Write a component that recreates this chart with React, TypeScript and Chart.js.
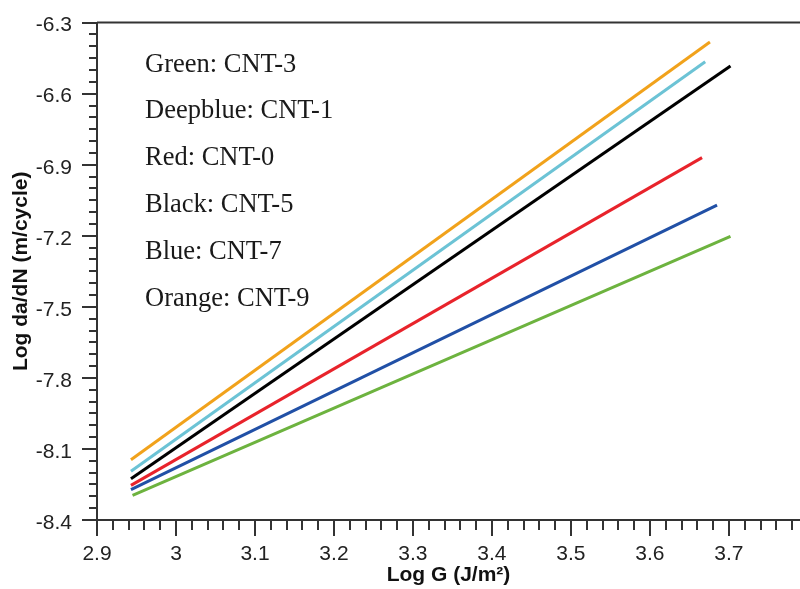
import { useEffect, useRef } from "react";
import { Chart, registerables } from "chart.js";

Chart.register(...registerables);

// Fitted fatigue-crack-growth lines: log da/dN against log G, one per CNT loading.
const seriesNames = ["CNT-9", "CNT-7", "CNT-5", "CNT-0", "CNT-1", "CNT-3"];
const seriesColors = ["#f1a21b", "#6cc3d5", "#000000", "#e8232b", "#2150a6", "#6db33f"];
const startLogG = [2.943, 2.943, 2.943, 2.943, 2.943, 2.945];
const endLogG = [3.676, 3.67, 3.702, 3.666, 3.685, 3.702];
const startRate = [-8.146, -8.194, -8.226, -8.254, -8.272, -8.296];
const endRate = [-6.382, -6.465, -6.483, -6.87, -7.071, -7.203];

const noteLines = [
  "Green: CNT-3",
  "Deepblue: CNT-1",
  "Red: CNT-0",
  "Black: CNT-5",
  "Blue: CNT-7",
  "Orange: CNT-9",
];

const xTicks = [2.9, 3.0, 3.1, 3.2, 3.3, 3.4, 3.5, 3.6, 3.7];
const yTicks = [-8.4, -8.1, -7.8, -7.5, -7.2, -6.9, -6.6, -6.3];
const xMinorStep = 0.02;
const yMinorStep = 0.05;

const SANS = '"Liberation Sans", Arial, Helvetica, sans-serif';
const SERIF = '"Liberation Serif", "Times New Roman", serif';
const AXIS_COLOR = "#333333";

const fmt = (v: number | string) => String(Math.round(Number(v) * 10) / 10);

function minorValues(min: number, max: number, step: number, majors: number[]) {
  const out: number[] = [];
  const n = Math.round((max - min) / step);
  for (let i = 0; i <= n; i++) {
    const v = +(min + i * step).toFixed(4);
    if (v > max + 1e-9) break;
    if (majors.some((m) => Math.abs(m - v) < 1e-6)) continue;
    out.push(v);
  }
  return out;
}

const framePlugin = {
  id: "frameAndNotes",
  afterDraw(chart: any) {
    const { ctx, chartArea, scales } = chart;
    const x = scales.x;
    const y = scales.y;
    ctx.save();

    // top frame line
    ctx.strokeStyle = AXIS_COLOR;
    ctx.lineWidth = 2;
    ctx.beginPath();
    ctx.moveTo(chartArea.left, chartArea.top);
    ctx.lineTo(chartArea.right, chartArea.top);
    ctx.stroke();

    // minor tick marks
    ctx.lineWidth = 2;
    ctx.beginPath();
    for (const v of minorValues(2.9, x.max, xMinorStep, xTicks)) {
      const px = Math.round(x.getPixelForValue(v));
      ctx.moveTo(px, chartArea.bottom);
      ctx.lineTo(px, chartArea.bottom + 10);
    }
    for (const v of minorValues(-8.4, -6.3, yMinorStep, yTicks)) {
      const py = Math.round(y.getPixelForValue(v));
      ctx.moveTo(chartArea.left, py);
      ctx.lineTo(chartArea.left - 8, py);
    }
    ctx.stroke();

    // key text inside the plot
    ctx.fillStyle = "#1a1a1a";
    ctx.font = `26.5px ${SERIF}`;
    ctx.textAlign = "left";
    ctx.textBaseline = "middle";
    noteLines.forEach((t, i) => {
      ctx.fillText(t, chartArea.left + 48, chartArea.top + 42 + i * 46.8);
    });
    ctx.restore();
  },
};

export default function App() {
  const canvasRef = useRef<HTMLCanvasElement | null>(null);

  useEffect(() => {
    document.body.style.margin = "0";
    const canvas = canvasRef.current;
    if (!canvas) return;

    const datasets = seriesNames.map((name, i) => ({
      label: name,
      data: [
        { x: startLogG[i], y: startRate[i] },
        { x: endLogG[i], y: endRate[i] },
      ],
      borderColor: seriesColors[i],
      backgroundColor: seriesColors[i],
      borderWidth: 3,
      borderCapStyle: "butt" as const,
      pointRadius: 0,
      fill: false,
      tension: 0,
    }));

    const chart = new Chart(canvas, {
      type: "line",
      data: { datasets },
      options: {
        animation: false,
        responsive: false,
        maintainAspectRatio: false,
        parsing: false as any,
        layout: { padding: { top: 16, right: 0, bottom: 0, left: 0 } },
        plugins: {
          legend: { display: false },
          tooltip: { enabled: false },
        },
        scales: {
          x: {
            type: "linear",
            min: 2.9,
            max: 3.79,
            afterBuildTicks: (s: any) => {
              s.ticks = xTicks.map((value) => ({ value }));
            },
            afterFit: (s: any) => {
              s.height = 69;
            },
            grid: {
              drawOnChartArea: false,
              drawTicks: true,
              tickLength: 16,
              color: AXIS_COLOR,
              lineWidth: 2,
            },
            border: { display: true, color: AXIS_COLOR, width: 2 },
            ticks: {
              autoSkip: false,
              maxRotation: 0,
              padding: 6,
              color: "#222222",
              font: { family: SANS, size: 21 },
              callback: (v: any) => fmt(v),
            },
            title: {
              display: true,
              text: "Log G (J/m²)",
              color: "#111111",
              font: { family: SANS, size: 21, weight: "bold" },
              padding: { top: 0, bottom: 1 },
            },
          },
          y: {
            type: "linear",
            min: -8.4,
            max: -6.3,
            afterBuildTicks: (s: any) => {
              s.ticks = yTicks.map((value) => ({ value }));
            },
            afterFit: (s: any) => {
              s.width = 97;
            },
            grid: {
              drawOnChartArea: false,
              drawTicks: true,
              tickLength: 15,
              color: AXIS_COLOR,
              lineWidth: 2,
            },
            border: { display: true, color: AXIS_COLOR, width: 2 },
            ticks: {
              autoSkip: false,
              padding: 10,
              labelOffset: 3,
              color: "#222222",
              font: { family: SANS, size: 21 },
              callback: (v: any) => fmt(v),
            },
            title: {
              display: true,
              text: "Log da/dN (m/cycle)",
              color: "#111111",
              font: { family: SANS, size: 21, weight: "bold" },
              padding: { top: 9, bottom: 0 },
            },
          },
        },
      },
      plugins: [framePlugin],
    });

    return () => chart.destroy();
  }, []);

  return (
    <div style={{ position: "fixed", left: 0, top: 0, width: 800, height: 589, background: "#ffffff" }}>
      <canvas ref={canvasRef} width={800} height={589} style={{ display: "block", width: 800, height: 589 }} />
    </div>
  );
}
